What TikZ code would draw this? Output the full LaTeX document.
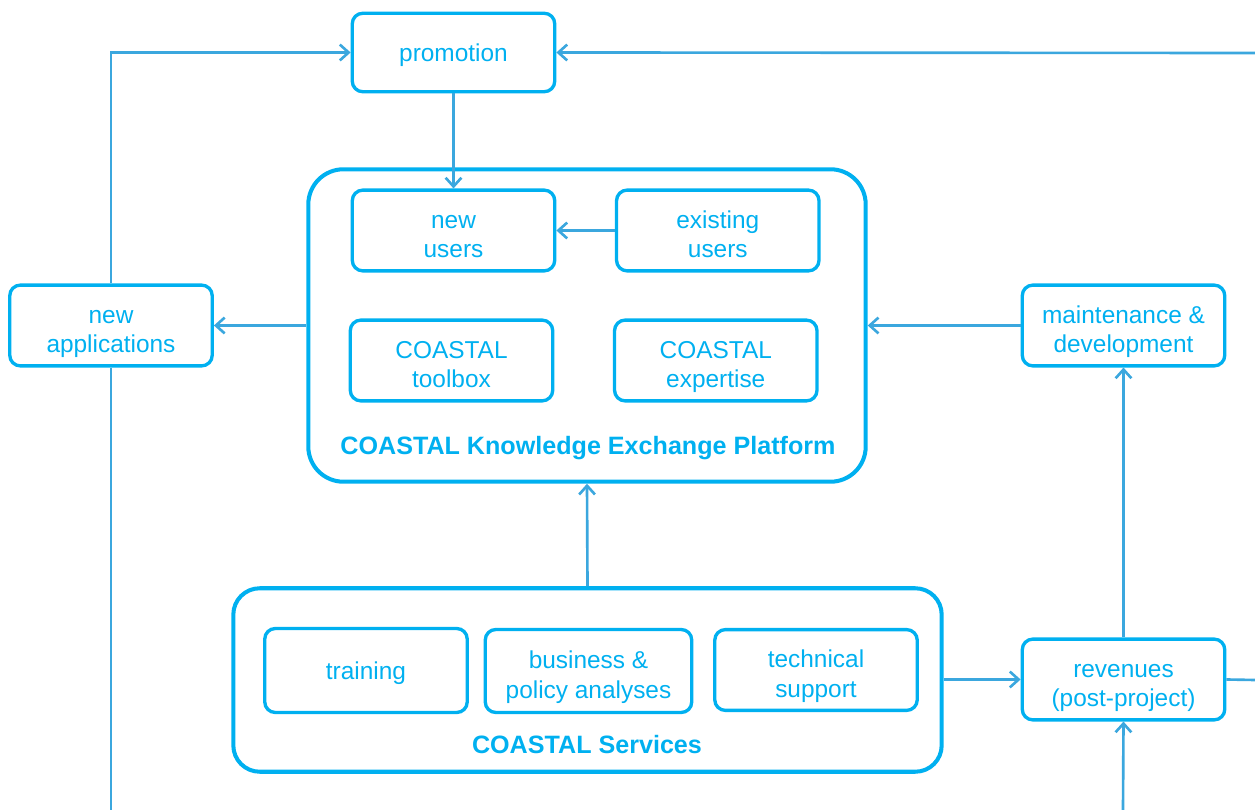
\documentclass[tikz,border=0pt]{standalone}
\usepackage{fontspec}
\setmainfont{Liberation Sans}
\usetikzlibrary{arrows.meta,positioning}

\definecolor{boxblue}{HTML}{00B0F0}
\definecolor{lineblue}{HTML}{3BA7DE}

% struts that keep the box texts at the same height
\newcommand{\upstrut}{\rule{0pt}{18.3pt}}
\newcommand{\downstrut}{\rule[-4pt]{0pt}{4pt}}
\newcommand{\onestrut}{\rule{0pt}{13.2pt}}

\tikzset{
  unit/.style = {draw=boxblue, line width=1.9pt, rounded corners=6pt,
                 minimum width=4.05cm, minimum height=1.57cm, align=center,
                 text=boxblue, font=\fontsize{13.9}{17}\selectfont},
  frame/.style = {draw=boxblue, line width=2.3pt},
  caption/.style = {text=boxblue, font=\fontsize{14.3}{17}\selectfont\bfseries},
  link/.style = {draw=lineblue, line width=1.5pt,
                 -{Straight Barb[length=5pt,width=9pt,line width=1.5pt]}},
  plain/.style = {draw=lineblue, line width=1.5pt},
}

\begin{document}
\begin{tikzpicture}[x=0.02cm, y=-0.02cm]
  \useasboundingbox (0,0) rectangle (1255,810);

  % big frames
  \node[frame, rounded corners=20pt, minimum width=11.15cm, minimum height=6.25cm]
    (platform) at (587,325.5) {};
  \node[caption] (platformlabel) at (588,448) {COASTAL Knowledge Exchange Platform};

  \node[frame, rounded corners=15pt, minimum width=14.17cm, minimum height=3.67cm]
    (services) at (587.5,680) {};
  \node[caption] (serviceslabel) at (587,745) {COASTAL Services};

  % boxes
  \node[unit] (promotion) at (453.5,52.5) {\onestrut promotion};
  \node[unit] (newusers) at (453.5,230.5) {\upstrut new\\users\downstrut};
  \node[unit, right=1.17cm of newusers] (existing) {\upstrut existing\\users\downstrut};
  \node[unit] (toolbox) at (451.5,360.5) {\upstrut COASTAL\\toolbox\downstrut};
  \node[unit, right=1.17cm of toolbox] (expertise) {\upstrut COASTAL\\expertise\downstrut};

  \node[unit] (newapps) at (111,325.5) {\upstrut new\\applications\downstrut};
  \node[unit] (maint) at (1123.5,325.5) {\upstrut maintenance \&\\development\downstrut};

  \node[unit, minimum height=1.68cm] (training) at (366,670.5) {\onestrut training};
  \node[unit, minimum width=4.13cm, minimum height=1.66cm] (business) at (588.5,671)
    {\upstrut business \&\\policy analyses\downstrut};
  \node[unit] (support) at (816,670) {\upstrut technical\\support\downstrut};
  \node[unit] (revenues) at (1123.5,679.5) {\upstrut revenues\\(post-project)\downstrut};

  % loose ends at the picture's edges
  \coordinate (edgetop) at (1255,53);
  \coordinate (edgerev) at (1255,680);
  \coordinate (edgeapps) at (111,810);
  \coordinate (edgebottom) at (1123,810);

  % connectors
  \draw[link] (promotion) -- (newusers);
  \draw[link] (existing) -- (newusers);
  \draw[link] (platform.west |- newapps.east) -- (newapps.east);
  \draw[link] (newapps.north) |- (promotion.west);
  \draw[plain] (newapps.south) -- (edgeapps);
  \draw[link] (edgetop) -- (promotion.east);
  \draw[link] (maint.west) -- (maint.west -| platform.east);
  \draw[link] (revenues) -- (maint);
  \draw[link] (edgebottom) -- (revenues.south);
  \draw[plain] (revenues.east) -- (edgerev);
  \draw[link] (services.north) -- (platform.south);
  \draw[link] (services.east |- revenues.west) -- (revenues.west);
\end{tikzpicture}
\end{document}
